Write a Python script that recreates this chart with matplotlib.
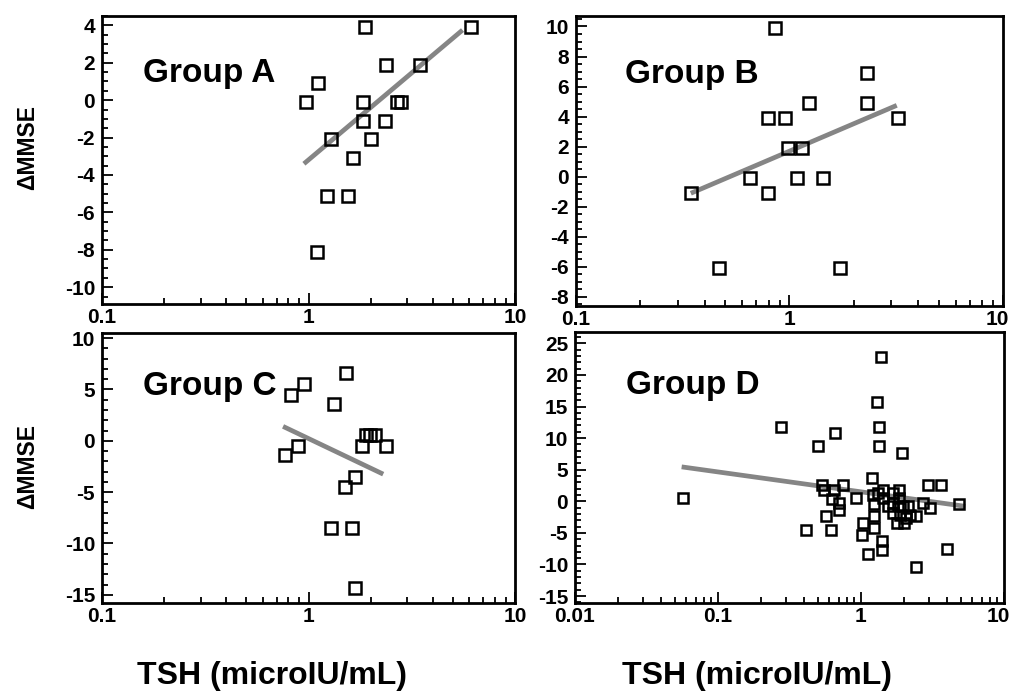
import matplotlib
matplotlib.use('Agg')
import matplotlib.pyplot as plt
import matplotlib.transforms as mtransforms
from matplotlib.ticker import MultipleLocator, LogLocator, NullFormatter

plt.rcParams['font.family'] = ['Liberation Sans', 'DejaVu Sans']
plt.rcParams['font.weight'] = 'bold'
plt.rcParams['axes.unicode_minus'] = False

# Group A
tsh_a = [1.88, 6.12, 2.36, 3.47, 1.11, 0.97, 1.83, 2.67, 2.82, 1.83, 2.34, 1.28, 2.0, 1.65, 1.23, 1.56, 1.10]
mmse_a = [3.9, 3.9, 1.9, 1.9, 0.9, -0.1, -0.1, -0.1, -0.1, -1.1, -1.1, -2.1, -2.1, -3.1, -5.1, -5.1, -8.1]
fit_a_x = [0.95, 5.57]
fit_a_y = [-3.4, 3.75]

# Group B
tsh_b = [0.855, 2.3, 1.24, 2.3, 0.79, 0.95, 3.21, 0.98, 1.14, 0.65, 1.08, 1.43, 0.345, 0.79, 0.47, 1.73]
mmse_b = [9.9, 6.9, 4.9, 4.9, 3.9, 3.9, 3.9, 1.9, 1.9, -0.1, -0.1, -0.1, -1.1, -1.1, -6.1, -6.1]
fit_b_x = [0.345, 3.18]
fit_b_y = [-1.1, 4.75]

# Group C
tsh_c = [1.52, 0.955, 0.82, 1.33, 0.886, 0.773, 1.89, 1.99, 2.10, 1.82, 2.37, 1.68, 1.51, 1.28, 1.62, 1.68]
mmse_c = [6.6, 5.5, 4.5, 3.6, -0.5, -1.4, 0.6, 0.6, 0.6, -0.5, -0.5, -3.5, -4.5, -8.5, -8.5, -14.3]
fit_c_x = [0.753, 2.30]
fit_c_y = [1.4, -3.25]

# Group D
tsh_d = [0.057, 0.277, 0.41, 0.50, 0.53, 0.55, 0.57, 0.62, 0.63, 0.65, 0.66, 0.70, 0.70, 0.75,
         0.93, 1.02, 1.03, 1.12, 1.20, 1.21, 1.23, 1.24, 1.24, 1.29, 1.31, 1.33, 1.33, 1.38,
         1.40, 1.40, 1.43, 1.43, 1.54, 1.67, 1.67, 1.67, 1.78, 1.83, 1.85, 1.87, 1.87, 1.95,
         1.96, 2.01, 2.08, 2.14, 2.20, 2.44, 2.44, 2.72, 2.96, 3.04, 3.65, 3.98, 4.82]
mmse_d = [0.5, 11.7, -4.5, 8.7, 2.6, 1.8, -2.3, -4.5, 0.4, 1.8, 10.8, -0.3, -1.4, 2.6,
          0.5, -5.4, -3.4, -8.4, 3.7, 1.0, -4.2, -0.5, -2.4, 15.7, 1.3, 11.7, 8.8, 22.8,
          -6.3, -7.7, 1.8, 0.5, -0.8, -0.3, -1.9, 1.3, -3.4, 0.5, 1.8, -0.8, -2.1, 7.7,
          -0.8, -3.4, -2.6, -0.8, -2.1, -2.4, -10.4, -0.3, 2.6, -1.0, 2.6, -7.5, -0.4]
fit_d_x = [0.0557, 5.36]
fit_d_y = [5.45, -0.8]

fig = plt.figure(figsize=(10.13, 7.0), dpi=100)


def panel(rect, x, y, fx, fy, label, lx, xlim, ylim, major, minor, xticks, xlabels, ms):
    ax = fig.add_axes(rect)
    ax.plot(fx, fy, '-', color='#858585', lw=3.4, solid_capstyle='butt', zorder=1)
    ax.plot(x, y, 's', ms=ms, mfc='none', mec='black', mew=1.8, zorder=2)
    ax.set_xscale('log')
    ax.set_xlim(xlim)
    ax.set_ylim(ylim)
    ax.set_xticks(xticks)
    ax.set_xticklabels(xlabels)
    ax.xaxis.set_minor_locator(LogLocator(base=10, subs=range(2, 10)))
    ax.xaxis.set_minor_formatter(NullFormatter())
    ax.yaxis.set_major_locator(MultipleLocator(major))
    ax.yaxis.set_minor_locator(MultipleLocator(minor))
    ax.tick_params(which='both', direction='in', top=False, right=False, width=1.3, labelsize=15)
    ax.tick_params(axis='y', pad=5)
    ax.tick_params(axis='x', pad=3)
    ax.tick_params(which='major', length=8)
    ax.tick_params(which='minor', length=4)
    for s in ax.spines.values():
        s.set_linewidth(2)
    ax.text(lx, 0.77, label, transform=ax.transAxes, fontsize=24, fontweight='bold')
    return ax


panel([0.1007, 0.5657, 0.4077, 0.4114], tsh_a, mmse_a, fit_a_x, fit_a_y, 'Group A', 0.10,
      (0.1, 10), (-10.9, 4.5), 2, 0.5, [0.1, 1, 10], ['0.1', '1', '10'], 8.5)
axb = panel([0.5686, 0.5629, 0.4215, 0.4143], tsh_b, mmse_b, fit_b_x, fit_b_y, 'Group B', 0.115,
            (0.1, 10), (-8.6, 10.7), 2, 0.5, [0.1, 1, 10], ['0.1', '1', '10'], 8.5)
panel([0.1007, 0.1386, 0.4077, 0.3857], tsh_c, mmse_c, fit_c_x, fit_c_y, 'Group C', 0.10,
      (0.1, 10), (-15.8, 10.5), 5, 1, [0.1, 1, 10], ['0.1', '1', '10'], 8.5)
axd = panel([0.5676, 0.1386, 0.4235, 0.3871], tsh_d, mmse_d, fit_d_x, fit_d_y, 'Group D', 0.12,
            (0.01, 10), (-16.1, 26.8), 5, 1, [0.01, 0.1, 1, 10], ['0.01', '0.1', '1', '10'], 7.5)

# keep the last "10" inside the picture
shift = mtransforms.ScaledTranslation(-6 / 100, 0, fig.dpi_scale_trans)
for ax in (axb, axd):
    lab = ax.get_xticklabels()[-1]
    lab.set_transform(lab.get_transform() + shift)

fig.text(0.027, 0.79, '\u0394MMSE', rotation=90, ha='center', va='center', fontsize=16.5, fontweight='bold')
fig.text(0.027, 0.333, '\u0394MMSE', rotation=90, ha='center', va='center', fontsize=16.5, fontweight='bold')
fig.text(0.2685, 0.034, 'TSH (microIU/mL)', ha='center', va='center', fontsize=23, fontweight='bold')
fig.text(0.747, 0.034, 'TSH (microIU/mL)', ha='center', va='center', fontsize=23, fontweight='bold')

fig.savefig('out.png', dpi=100)
